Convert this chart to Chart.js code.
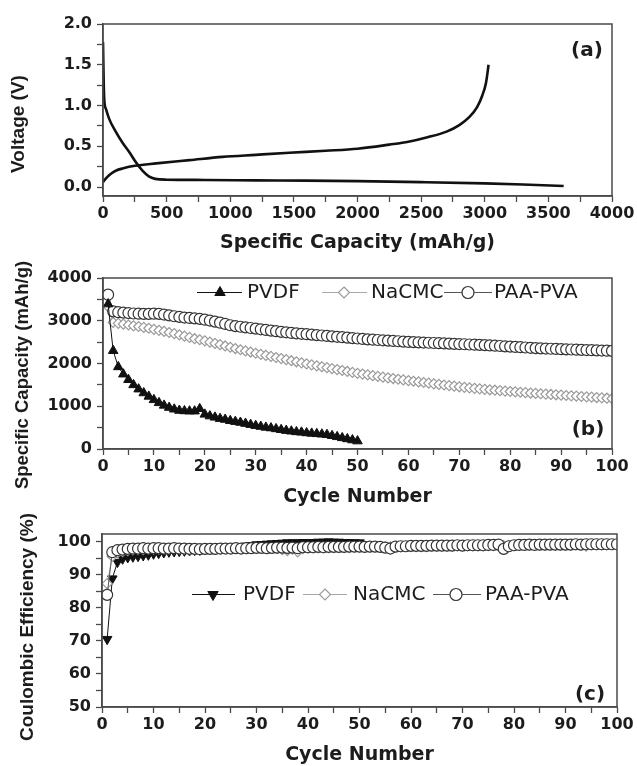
<!DOCTYPE html>
<html><head><meta charset="utf-8">
<script src="https://cdn.jsdelivr.net/npm/chart.js@4.4.0/dist/chart.umd.min.js"></script>
<style>
html,body{margin:0;padding:0;background:#fff;}
#wrap{position:relative;width:637px;height:766px;overflow:hidden;}
canvas{position:absolute;left:0;}
</style></head><body>
<div id="wrap">
<canvas id="ca" width="637" height="256" style="top:0px"></canvas>
<canvas id="cb" width="637" height="256" style="top:256px"></canvas>
<canvas id="cc" width="637" height="254" style="top:512px"></canvas>
</div>
<script>
// ---------- Panel (a): voltage profile ----------
const capDischarge = [0, 3, 6, 10, 25, 50, 100, 155, 210, 260, 310, 360, 410, 500, 800, 1200, 1600, 2000, 2500, 3000, 3300, 3620];
const vDischarge   = [1.78, 1.5, 1.25, 1.07, 0.95, 0.83, 0.68, 0.54, 0.42, 0.30, 0.20, 0.13, 0.10, 0.09, 0.087, 0.082, 0.078, 0.072, 0.06, 0.045, 0.032, 0.012];
const capCharge = [0, 25, 60, 100, 160, 250, 418, 680, 940, 1200, 1465, 1750, 2000, 2250, 2400, 2550, 2700, 2800, 2880, 2940, 2980, 3010, 3030];
const vCharge   = [0.06, 0.11, 0.16, 0.20, 0.23, 0.26, 0.29, 0.33, 0.37, 0.395, 0.42, 0.445, 0.47, 0.52, 0.555, 0.61, 0.68, 0.76, 0.86, 0.98, 1.12, 1.28, 1.5];
const xMajorA = [0, 500, 1000, 1500, 2000, 2500, 3000, 3500, 4000];
const xMinorA = [250, 750, 1250, 1750, 2250, 2750, 3250, 3750];
const yMajorA = [0, 0.5, 1.0, 1.5, 2.0];
const yMinorA = [0.25, 0.75, 1.25, 1.75];

// ---------- Panel (b): cycling capacity ----------
const cycles = Array.from({length: 100}, (_, i) => i + 1);
const capPVDF = [3390, 2300, 1920, 1750, 1620, 1500, 1400, 1310, 1230, 1150,
  1080, 1020, 970, 930, 900, 890, 885, 885, 940, 810,
  770, 740, 710, 690, 660, 640, 620, 595, 570, 545,
  525, 505, 490, 470, 450, 430, 415, 400, 390, 375,
  365, 355, 345, 335, 310, 285, 260, 235, 210, 185];
const capNaCMC = [3330, 2960, 2940, 2920, 2900, 2880, 2865, 2845, 2825, 2800,
  2775, 2750, 2725, 2700, 2670, 2640, 2610, 2580, 2555, 2530,
  2500, 2470, 2440, 2410, 2380, 2350, 2322, 2295, 2268, 2240,
  2215, 2190, 2165, 2140, 2115, 2090, 2065, 2040, 2015, 1990,
  1968, 1946, 1924, 1902, 1880, 1858, 1836, 1814, 1792, 1770,
  1752, 1734, 1716, 1698, 1680, 1664, 1648, 1632, 1616, 1600,
  1585, 1570, 1555, 1540, 1525, 1511, 1497, 1483, 1469, 1455,
  1443, 1431, 1419, 1407, 1395, 1385, 1375, 1365, 1355, 1345,
  1336, 1327, 1318, 1309, 1300, 1292, 1284, 1276, 1268, 1260,
  1252, 1244, 1236, 1228, 1220, 1212, 1204, 1196, 1188, 1180];
const capPAAPVA = [3610, 3220, 3200, 3190, 3180, 3170, 3165, 3160, 3160, 3165,
  3160, 3145, 3125, 3105, 3090, 3075, 3065, 3055, 3045, 3025,
  3005, 2980, 2955, 2925, 2895, 2875, 2860, 2845, 2830, 2815,
  2800, 2785, 2770, 2755, 2740, 2730, 2715, 2705, 2695, 2685,
  2675, 2665, 2655, 2645, 2635, 2625, 2615, 2605, 2595, 2585,
  2575, 2565, 2557, 2550, 2543, 2535, 2528, 2520, 2512, 2505,
  2500, 2495, 2490, 2485, 2480, 2475, 2470, 2465, 2460, 2455,
  2450, 2445, 2440, 2435, 2430, 2423, 2416, 2409, 2402, 2395,
  2388, 2381, 2374, 2367, 2360, 2355, 2350, 2345, 2340, 2335,
  2331, 2327, 2323, 2319, 2315, 2311, 2307, 2303, 2299, 2295];
const xMajorC = [0, 10, 20, 30, 40, 50, 60, 70, 80, 90, 100];
const xMinorC = [5, 15, 25, 35, 45, 55, 65, 75, 85, 95];
const yMajorB = [0, 1000, 2000, 3000, 4000];
const yMinorB = [500, 1500, 2500, 3500];

// ---------- Panel (c): coulombic efficiency ----------
const cePVDF = [70.5, 88.8, 93.8, 94.8, 95.2, 95.4, 95.6, 95.8, 96.0, 96.3,
  96.5, 96.7, 96.9, 97.0, 97.1, 97.2, 97.3, 97.4, 97.5, 97.6,
  97.7, 97.8, 97.9, 98.0, 98.1, 98.3, 98.5, 98.7, 98.9, 99.1,
  99.2, 99.3, 99.4, 99.5, 99.6, 99.7, 99.7, 99.7, 99.8, 99.8,
  99.8, 99.9, 99.9, 100.0, 99.9, 99.9, 99.8, 99.8, 99.7, 99.7];
const ceNaCMC = [87.3, 95.5, 96.6, 97.0, 97.3, 97.5, 97.6, 97.6, 97.7, 97.7,
  97.7, 97.8, 97.8, 97.8, 97.8, 97.7, 97.6, 97.6, 97.7, 97.7,
  97.8, 97.8, 97.8, 97.9, 97.9, 97.9, 97.9, 97.9, 98.0, 98.0,
  98.0, 97.9, 98.0, 97.9, 97.6, 97.3, 97.7, 96.9, 97.9, 98.0,
  98.1, 98.1, 98.1, 98.2, 98.2, 98.2, 98.2, 98.2, 98.3, 98.3,
  98.3, 98.3, 98.3, 98.4, 98.4, 98.4, 98.4, 98.4, 98.5, 98.5,
  98.5, 98.5, 98.5, 98.6, 98.6, 98.6, 98.6, 98.6, 98.7, 98.7,
  98.7, 98.7, 98.7, 98.7, 98.8, 98.8, 98.8, 98.8, 98.8, 98.8,
  98.9, 98.9, 98.9, 98.9, 98.9, 98.9, 98.9, 98.9, 99.0, 99.0,
  99.0, 99.0, 99.0, 98.6, 99.0, 99.0, 99.0, 99.1, 99.1, 99.1];
const cePAAPVA = [83.9, 96.8, 97.4, 97.6, 97.8, 97.9, 97.9, 98.0, 97.9, 98.0,
  98.0, 97.9, 97.9, 98.0, 97.9, 97.9, 97.8, 97.8, 97.7, 97.8,
  97.8, 97.8, 97.9, 97.9, 97.9, 98.0, 97.9, 98.0, 98.0, 98.1,
  98.1, 98.0, 98.1, 98.2, 98.2, 98.1, 98.2, 98.0, 98.3, 98.3,
  98.3, 98.4, 98.3, 98.4, 98.4, 98.4, 98.4, 98.5, 98.5, 98.5,
  98.4, 98.5, 98.5, 98.4, 98.2, 97.9, 98.5, 98.6, 98.6, 98.7,
  98.7, 98.7, 98.7, 98.8, 98.8, 98.8, 98.8, 98.8, 98.9, 98.8,
  98.9, 98.9, 98.9, 98.9, 99.0, 99.0, 99.1, 97.8, 98.6, 98.9,
  99.0, 99.0, 99.1, 99.0, 99.1, 99.1, 99.1, 99.1, 99.1, 99.1,
  99.1, 99.2, 99.1, 99.2, 99.2, 99.2, 99.2, 99.2, 99.2, 99.2];
const yMajorCE = [50, 60, 70, 80, 90, 100];
const yMinorCE = [55, 65, 75, 85, 95];

// ---------- helpers ----------
const AXIS_COLOR = '#4a4a4a';
const TEXT_COLOR = '#1c1c1c';
const TICK_FONT = {family: 'DejaVu Sans', weight: 'bold', size: 16};

function pairs(xs, ys) { return ys.map((y, i) => ({x: xs[i], y: y})); }
function tickSetter(majors, minors) {
  return function (scale) {
    scale.ticks = majors.concat(minors).sort((p, q) => p - q).map(v => ({value: v}));
  };
}
function labeler(majors, digits) {
  return function (value) { return majors.indexOf(value) >= 0 ? value.toFixed(digits) : ''; };
}
function xAxis(min, max, majors, minors, digits, title, height, padB) {
  return {
    type: 'linear', position: 'bottom', min: min, max: max,
    afterBuildTicks: tickSetter(majors, minors),
    afterFit: s => { s.height = height; },
    grid: {display: true, drawOnChartArea: false, drawTicks: true, tickLength: 6, tickWidth: 1.3, tickColor: AXIS_COLOR},
    border: {display: true, color: AXIS_COLOR, width: 1.5},
    ticks: {autoSkip: false, maxRotation: 0, minRotation: 0, padding: 2, color: TEXT_COLOR, font: TICK_FONT, callback: labeler(majors, digits)},
    title: {display: true, text: title, color: TEXT_COLOR, font: {family: 'DejaVu Sans', weight: 'bold', size: 19}, padding: {top: 0, bottom: padB}}
  };
}
function yAxis(min, max, majors, minors, digits, width) {
  return {
    type: 'linear', position: 'left', min: min, max: max,
    afterBuildTicks: tickSetter(majors, minors),
    afterFit: s => { s.width = width; },
    grid: {display: true, drawOnChartArea: false, drawTicks: true, tickLength: 6, tickWidth: 1.3, tickColor: AXIS_COLOR},
    border: {display: true, color: AXIS_COLOR, width: 1.5},
    ticks: {autoSkip: false, padding: 5, color: TEXT_COLOR, font: TICK_FONT, callback: labeler(majors, digits)},
    title: {display: false}
  };
}
function drawMarker(ctx, style, x, y, r, rotDeg, fill, stroke, lw) {
  ctx.beginPath();
  if (style === 'circle') {
    ctx.arc(x, y, r, 0, Math.PI * 2);
  } else if (style === 'triangle') {
    let a = (rotDeg || 0) * Math.PI / 180;
    for (let k = 0; k < 3; k++) {
      const px = x + Math.sin(a) * r, py = y - Math.cos(a) * r;
      if (k === 0) ctx.moveTo(px, py); else ctx.lineTo(px, py);
      a += 2 * Math.PI / 3;
    }
    ctx.closePath();
  } else {
    ctx.moveTo(x, y - r); ctx.lineTo(x + r, y); ctx.lineTo(x, y + r); ctx.lineTo(x - r, y); ctx.closePath();
  }
  ctx.fillStyle = fill; ctx.fill();
  ctx.lineWidth = lw; ctx.strokeStyle = stroke; ctx.stroke();
}
function makeDecor(cfg) {
  return {
    id: 'decor',
    afterDraw(chart) {
      const ctx = chart.ctx, a = chart.chartArea;
      ctx.save();
      ctx.strokeStyle = AXIS_COLOR; ctx.lineWidth = 1.5;
      ctx.strokeRect(a.left, a.top, a.right - a.left, a.bottom - a.top);
      ctx.fillStyle = TEXT_COLOR;
      ctx.textAlign = 'center'; ctx.textBaseline = 'middle';
      ctx.font = 'bold 20px "DejaVu Sans"';
      ctx.fillText(cfg.label, cfg.labelX, cfg.labelY);
      ctx.save();
      ctx.translate(cfg.ytX, cfg.ytY); ctx.rotate(-Math.PI / 2);
      ctx.font = 'bold ' + cfg.ytSize + 'px "Liberation Sans"';
      ctx.fillText(cfg.yTitle, 0, 0);
      ctx.restore();
      if (cfg.legend) {
        const L = cfg.legend;
        L.items.forEach((it, i) => {
          const ds = chart.data.datasets[i];
          ctx.beginPath(); ctx.moveTo(it.x0, L.y); ctx.lineTo(it.x1, L.y);
          ctx.strokeStyle = ds.borderColor; ctx.lineWidth = 1.2; ctx.stroke();
          drawMarker(ctx, ds.pointStyle, it.mx, L.y, ds.pointRadius + 0.5, ds.pointRotation || 0,
            ds.pointBackgroundColor, ds.pointBorderColor, ds.pointBorderWidth);
          ctx.fillStyle = TEXT_COLOR; ctx.textAlign = 'left';
          ctx.font = '20px "DejaVu Sans"';
          ctx.fillText(ds.label, it.tx, L.y);
        });
      }
      ctx.restore();
    }
  };
}
const baseOpts = {
  responsive: false, animation: false, devicePixelRatio: 1,
  plugins: {legend: {display: false}, tooltip: {enabled: false}}
};

// ---------- Chart (a) ----------
new Chart(document.getElementById('ca'), {
  type: 'scatter',
  data: {datasets: [
    {label: 'discharge', data: pairs(capDischarge, vDischarge), showLine: true, pointRadius: 0, borderColor: '#111', borderWidth: 2.6, cubicInterpolationMode: 'monotone'},
    {label: 'charge', data: pairs(capCharge, vCharge), showLine: true, pointRadius: 0, borderColor: '#111', borderWidth: 2.6, cubicInterpolationMode: 'monotone'}
  ]},
  options: Object.assign({}, baseOpts, {
    layout: {padding: {top: 24, right: 25, left: 0, bottom: 0}},
    scales: {
      x: xAxis(0, 4000, xMajorA, xMinorA, 0, 'Specific Capacity (mAh/g)', 60, 2),
      y: yAxis(-0.11, 2.0, yMajorA, yMinorA, 1, 103)
    }
  }),
  plugins: [makeDecor({label: '(a)', labelX: 587, labelY: 51, yTitle: 'Voltage (V)', ytX: 19, ytY: 124, ytSize: 19})]
});

// ---------- Chart (b) ----------
new Chart(document.getElementById('cb'), {
  type: 'line',
  data: {datasets: [
    {label: 'PVDF', data: pairs(cycles, capPVDF), borderColor: '#111', borderWidth: 1, pointStyle: 'triangle', pointRadius: 5.5, pointRotation: 0, pointBackgroundColor: '#111', pointBorderColor: '#111', pointBorderWidth: 1, order: 0},
    {label: 'NaCMC', data: pairs(cycles, capNaCMC), borderColor: '#a8a8a8', borderWidth: 1, pointStyle: 'rectRot', pointRadius: 5, pointBackgroundColor: '#fff', pointBorderColor: '#9a9a9a', pointBorderWidth: 1.2, order: 2},
    {label: 'PAA-PVA', data: pairs(cycles, capPAAPVA), borderColor: '#555', borderWidth: 1, pointStyle: 'circle', pointRadius: 5.5, pointBackgroundColor: '#fff', pointBorderColor: '#333', pointBorderWidth: 1.2, order: 1}
  ]},
  options: Object.assign({}, baseOpts, {
    layout: {padding: {top: 22, right: 25, left: 0, bottom: 0}},
    scales: {
      x: xAxis(0, 100, xMajorC, xMinorC, 0, 'Cycle Number', 63, 4),
      y: yAxis(0, 4000, yMajorB, yMinorB, 0, 103)
    }
  }),
  plugins: [makeDecor({label: '(b)', labelX: 588, labelY: 174, yTitle: 'Specific Capacity (mAh/g)', ytX: 23, ytY: 119, ytSize: 18.5,
    legend: {y: 36.5, items: [{x0: 197, x1: 242, mx: 220, tx: 247}, {x0: 322, x1: 367, mx: 344, tx: 371}, {x0: 444, x1: 492, mx: 468, tx: 494}]}})]
});

// ---------- Chart (c) ----------
new Chart(document.getElementById('cc'), {
  type: 'line',
  data: {datasets: [
    {label: 'PVDF', data: pairs(cycles, cePVDF), borderColor: '#111', borderWidth: 1, pointStyle: 'triangle', pointRadius: 5.5, pointRotation: 180, pointBackgroundColor: '#111', pointBorderColor: '#111', pointBorderWidth: 1, order: 2},
    {label: 'NaCMC', data: pairs(cycles, ceNaCMC), borderColor: '#a8a8a8', borderWidth: 1, pointStyle: 'rectRot', pointRadius: 5, pointBackgroundColor: '#fff', pointBorderColor: '#9a9a9a', pointBorderWidth: 1.2, order: 1},
    {label: 'PAA-PVA', data: pairs(cycles, cePAAPVA), borderColor: '#555', borderWidth: 1, pointStyle: 'circle', pointRadius: 5.5, pointBackgroundColor: '#fff', pointBorderColor: '#333', pointBorderWidth: 1.2, order: 0}
  ]},
  options: Object.assign({}, baseOpts, {
    layout: {padding: {top: 22, right: 20, left: 0, bottom: 0}},
    scales: {
      x: xAxis(0, 100, xMajorC, xMinorC, 0, 'Cycle Number', 59, 0),
      y: yAxis(50, 102.3, yMajorCE, yMinorCE, 0, 102)
    }
  }),
  plugins: [makeDecor({label: '(c)', labelX: 590, labelY: 183, yTitle: 'Coulombic Efficiency (%)', ytX: 28, ytY: 115, ytSize: 19,
    legend: {y: 82.5, items: [{x0: 192, x1: 235, mx: 213, tx: 243}, {x0: 303, x1: 347, mx: 325, tx: 353}, {x0: 433, x1: 481, mx: 456, tx: 485}]}})]
});
</script>
</body></html>
